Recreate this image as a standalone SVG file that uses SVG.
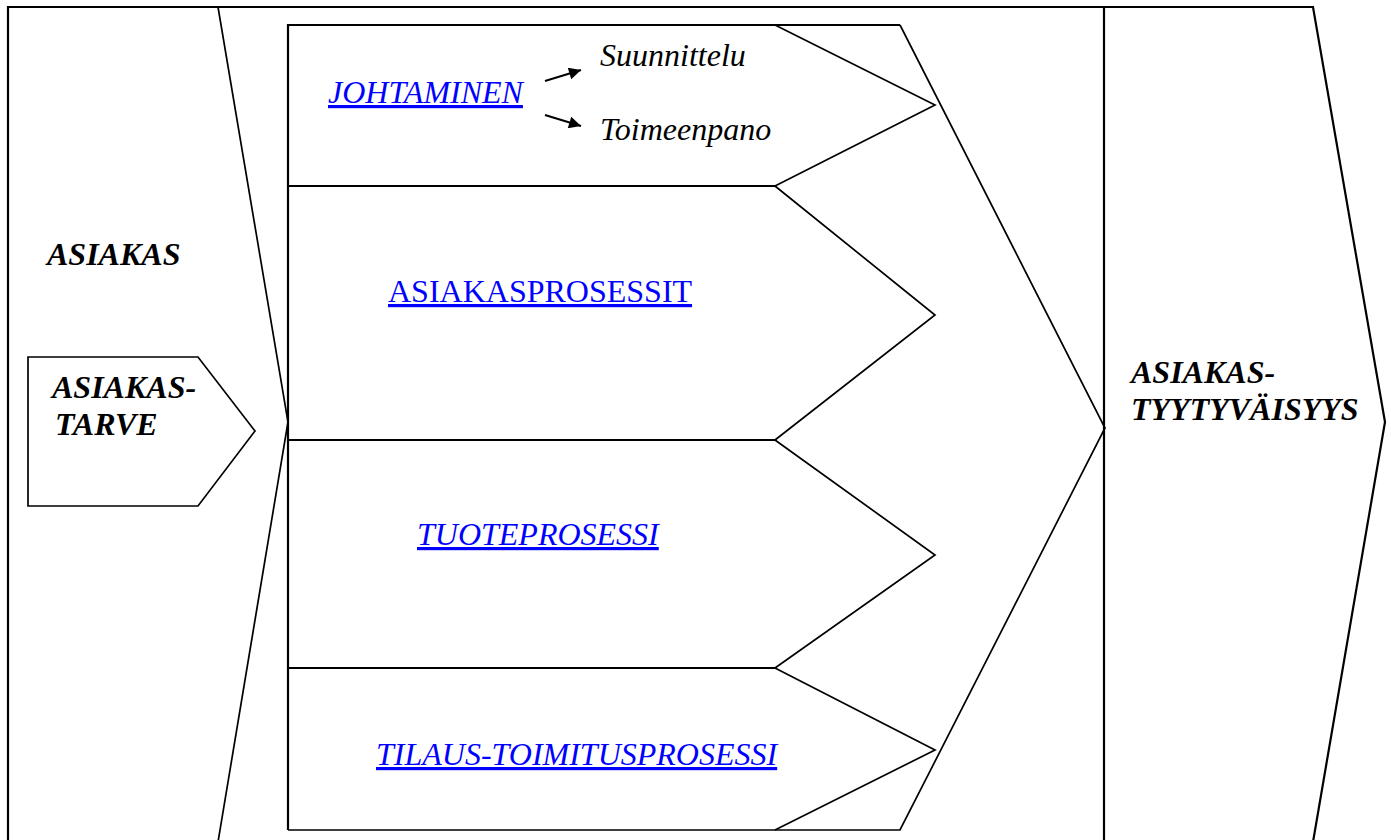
<svg xmlns="http://www.w3.org/2000/svg" width="1391" height="840" viewBox="0 0 1391 840">
  <defs>
    <marker id="arrowhead" viewBox="0 0 10 10" refX="10" refY="5" markerWidth="15" markerHeight="12" markerUnits="userSpaceOnUse" orient="auto">
      <path d="M0,0 L10,5 L0,10 z" fill="#000"/>
    </marker>
    <style>
      .frame { fill: none; stroke: #000; stroke-width: 2.2; }
      .line { fill: none; stroke: #000; stroke-width: 1.7; }
      .t { font-family: "Liberation Serif", "Times New Roman", serif; font-size: 32px; fill: #000; }
      .bi { font-weight: bold; font-style: italic; }
      .i { font-style: italic; }
      .link { fill: #0000ff; text-decoration: underline; }
      .arrow { stroke: #000; stroke-width: 2; fill: none; marker-end: url(#arrowhead); }
    </style>
  </defs>
  <rect width="1391" height="840" fill="#fff"/>

  <!-- outer frame: customer column, process area, satisfaction column -->
  <g id="frame">
    <path class="frame" d="M8,842 L8,7 L1313,7 L1385,422 L1313,842"/>
    <line class="frame" x1="1104" y1="7" x2="1104" y2="842"/>
  </g>

  <!-- customer column arrow -->
  <g id="asiakas">
    <path class="line" d="M218,7 L288,422 L218,842"/>
    <text class="t bi" x="47" y="265">ASIAKAS</text>
  </g>

  <!-- customer need -->
  <g id="asiakastarve">
    <path class="line" d="M28,357 L198,357 L255,431 L198,506 L28,506 Z"/>
    <text class="t bi" x="52" y="398">ASIAKAS-</text>
    <text class="t bi" x="55" y="435">TARVE</text>
  </g>

  <!-- large process arrow -->
  <g id="prosessit">
    <path class="frame" d="M288,830 L288,25 L900,25"/>
    <path class="line" d="M900,25 L1105,428 L900,830 L288,830"/>
  </g>

  <!-- management band -->
  <g id="johtaminen">
    <path class="line" d="M775,25 L935,105 L775,186"/>
    <line class="frame" x1="288" y1="186" x2="775" y2="186"/>
    <text class="t i link" x="328" y="103">JOHTAMINEN</text>
    <text class="t i" x="600" y="66">Suunnittelu</text>
    <text class="t i" x="600" y="140">Toimeenpano</text>
  </g>

  <!-- customer processes band -->
  <g id="asiakasprosessit">
    <path class="line" d="M775,186 L935,315 L775,440"/>
    <line class="frame" x1="288" y1="440" x2="775" y2="440"/>
    <text class="t link" x="388" y="302">ASIAKASPROSESSIT</text>
  </g>

  <!-- product process band -->
  <g id="tuoteprosessi">
    <path class="line" d="M775,440 L935,555 L775,668"/>
    <line class="frame" x1="288" y1="668" x2="775" y2="668"/>
    <text class="t i link" x="417" y="545">TUOTEPROSESSI</text>
  </g>

  <!-- order-delivery process band -->
  <g id="tilaustoimitus">
    <path class="line" d="M775,668 L935,750 L775,830"/>
    <text class="t i link" x="376" y="765">TILAUS-TOIMITUSPROSESSI</text>
  </g>

  <!-- customer satisfaction -->
  <g id="asiakastyytyvaisyys">
    <text class="t bi" x="1131" y="383">ASIAKAS-</text>
    <text class="t bi" x="1131" y="420">TYYTYVÄISYYS</text>
  </g>

  <g id="connectors">
    <line class="arrow" x1="545" y1="81" x2="581" y2="70"/>
    <line class="arrow" x1="545" y1="115" x2="581" y2="126"/>
  </g>
</svg>
